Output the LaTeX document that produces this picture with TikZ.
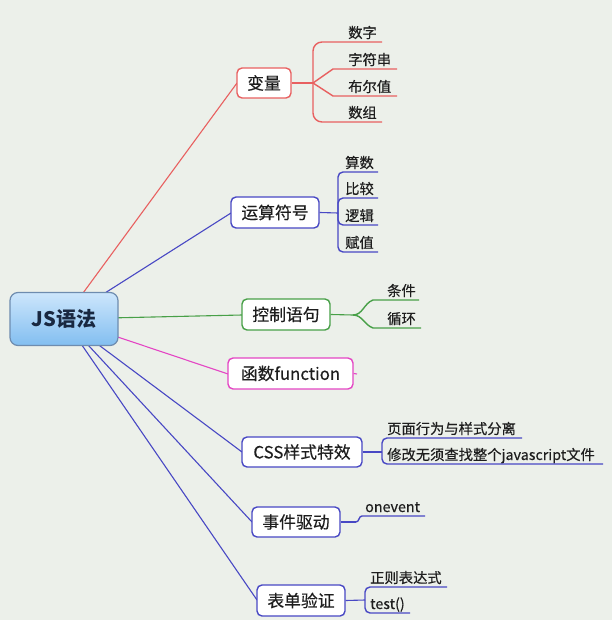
\documentclass[tikz,border=0pt]{standalone}
\usepackage{fontspec}
\setmainfont{Noto Sans CJK SC}
\newfontfamily\heavyfont{Noto Sans CJK SC}[FakeBold=0.35]
\usetikzlibrary{calc}
\definecolor{bg}{RGB}{236,240,234}
\definecolor{cred}{RGB}{232,96,96}
\definecolor{cblue}{RGB}{72,72,196}
\definecolor{cgreen}{RGB}{72,160,72}
\definecolor{cmag}{RGB}{228,70,196}
\definecolor{rootline}{RGB}{110,140,175}
\definecolor{roottop}{RGB}{205,230,252}
\definecolor{rootbot}{RGB}{130,190,240}
\definecolor{txt}{RGB}{30,30,30}
\tikzset{
  topic/.style={draw, line width=1.4pt, fill=white, rounded corners=5pt, inner sep=0pt,
    minimum height=30pt, text=txt, font=\heavyfont\fontsize{16.8}{17}\selectfont},
  leaf/.style={anchor=base west, inner sep=0pt, text=txt, font=\heavyfont\fontsize{14.3}{15}\selectfont},
  conn/.style={line width=1.1pt},
  uline/.style={line width=1.4pt}
}
\begin{document}
\begin{tikzpicture}[x=1pt,y=-1pt]
\fill[bg] (0,0) rectangle (612,620);
\useasboundingbox (0,0) rectangle (612,620);

\coordinate (c0) at (64,319);
\draw[conn,cred] (c0) -- (237,83) coordinate (e1);
\draw[conn,cblue] (c0) -- (231,213) coordinate (e2);
\draw[conn,cgreen] (c0) -- (242,315) coordinate (e3);
\draw[conn,cmag] (c0) -- (228,374) coordinate (e4);
\draw[conn,cblue] (c0) -- (242,452) coordinate (e5);
\draw[conn,cblue] (c0) -- (252,522) coordinate (e6);
\draw[conn,cblue] (c0) -- (257,600) coordinate (e7);

\node[draw=rootline, line width=1.2pt, rounded corners=8pt, top color=roottop, bottom color=rootbot,
  minimum width=108pt, minimum height=53pt, inner sep=0pt,
  font=\fontsize{20}{20}\selectfont\bfseries, text={rgb,255:red,25;green,40;blue,65}] (root) at (c0) {JS语法};

\node[topic, draw=cred, minimum width=54pt] (var) at (264,83) {变量};
\node[topic, draw=cblue, minimum width=88pt, minimum height=31pt] (ops) at (275,212.5) {运算符号};
\node[topic, draw=cgreen, minimum width=88pt, minimum height=31pt] (ctrl) at (286,314.5) {控制语句};
\node[topic, draw=cmag, minimum width=125pt, minimum height=31pt] (func) at (290.5,373.5) {函数function};
\node[topic, draw=cblue, minimum width=120pt] (css) at (302,452) {CSS样式特效};
\node[topic, draw=cblue, minimum width=88pt] (evt) at (296,522) {事件驱动};
\node[topic, draw=cblue, minimum width=88pt, minimum height=31pt] (form) at (301,600.5) {表单验证};

% ---------- 变量 ----------
\coordinate (j1) at (313,83);
\draw[conn,cred] (var.east) -- (j1);
\node[leaf] (a1) at (348,38) {数字};
\node[leaf] (a2) at (348,65) {字符串};
\node[leaf] (a3) at (348,92) {布尔值};
\node[leaf] (a4) at (348,118) {数组};
\draw[uline,cred,rounded corners=9pt] (j1) |- (333,42) -- (382,42);
\draw[uline,cred] (j1) -- (333,69) -- (397,69);
\draw[uline,cred] (j1) -- (333,96) -- (397,96);
\draw[uline,cred,rounded corners=9pt] (j1) |- (333,122) -- (382,122);

% ---------- 运算符号 ----------
\coordinate (j2) at (338,213);
\draw[conn,cblue] (ops.east) -- (j2);
\node[leaf] (b1) at (345,168) {算数};
\node[leaf] (b2) at (345,194) {比较};
\node[leaf] (b3) at (345,221) {逻辑};
\node[leaf] (b4) at (345,248) {赋值};
\draw[uline,cblue,rounded corners=5pt] (j2) |- (378,172);
\draw[uline,cblue,rounded corners=5pt] (j2) |- (378,198);
\draw[uline,cblue,rounded corners=5pt] (j2) |- (378,225);
\draw[uline,cblue,rounded corners=5pt] (j2) |- (378,252);

% ---------- 控制语句 ----------
\coordinate (j3) at (353,315);
\draw[conn,cgreen] (ctrl.east) -- (j3);
\node[leaf] (g1) at (387,296) {条件};
\node[leaf] (g2) at (387,324) {循环};
\draw[uline,cgreen] (j3) to[out=0,in=200] (373,300) -- (419,300);
\draw[uline,cgreen] (j3) to[out=0,in=160] (373,328) -- (421,328);

% ---------- 函数function ----------
\coordinate (j4) at (357,374);
\draw[conn,cmag] (func.east) -- (j4);

% ---------- CSS样式特效 ----------
\coordinate (j5) at (382,452);
\draw[conn,cblue] (css.east) -- (j5);
\node[leaf] (s1) at (387,434) {页面行为与样式分离};
\node[leaf] (s2) at (387,460) {修改无须查找整个javascript文件};
\draw[uline,cblue,rounded corners=5pt] (j5) |- (522,438);
\draw[uline,cblue,rounded corners=5pt] (j5) |- (603,464);

% ---------- 事件驱动 ----------
\coordinate (j6) at (356,522);
\draw[conn,cblue] (evt.east) -- (j6);
\node[leaf] (v1) at (365,512) {onevent};
\draw[uline,cblue] (j6) to[out=0,in=180] (362,516) -- (425,516);

% ---------- 表单验证 ----------
\coordinate (j7) at (365,600);
\draw[conn,cblue] (form.east) -- (j7);
\node[leaf] (f1) at (370,583) {正则表达式};
\node[leaf] (f2) at (370,609) {test()};
\draw[uline,cblue,rounded corners=5pt] (j7) |- (447,587);
\draw[uline,cblue,rounded corners=5pt] (j7) |- (410,613);
\end{tikzpicture}
\end{document}
